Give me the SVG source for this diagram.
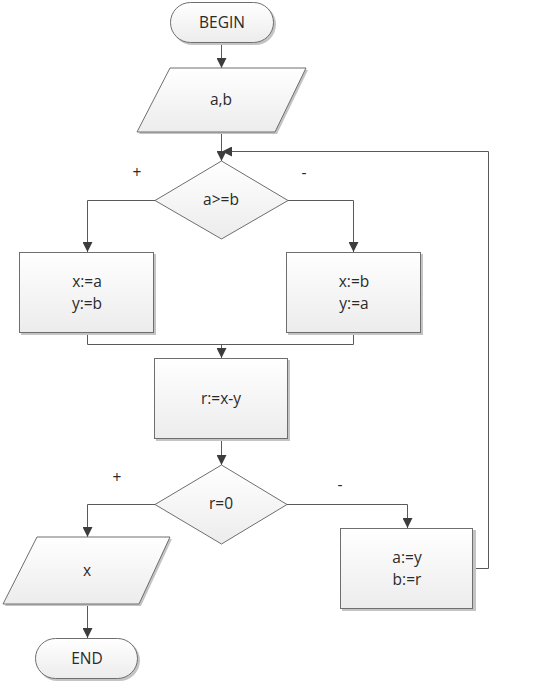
<svg xmlns="http://www.w3.org/2000/svg" width="538" height="684" viewBox="0 0 538 684">
<style>
.shape{fill:url(#g);stroke:#6e6e6e;stroke-width:1}
.shadow{fill:#c4c4c4;stroke:none}
.t{font-family:"Open Sans","Noto Sans",sans-serif;font-size:15.5px;fill:#2a2a2a;text-anchor:middle}
.c{fill:none;stroke:#5a5a5a;stroke-width:1}
</style>
<defs>
<linearGradient id="g" x1="0" y1="0" x2="0" y2="1">
<stop offset="0" stop-color="#ffffff"/>
<stop offset="1" stop-color="#ececec"/>
</linearGradient>
<marker id="a" viewBox="0 0 10 10" refX="10" refY="5" markerWidth="10" markerHeight="10" markerUnits="userSpaceOnUse" orient="auto">
<path d="M0,0 L10,5 L0,10 z" fill="#3c3c3c"/>
</marker>
</defs>
<rect width="538" height="684" fill="#fff"/>
<g id="connectors">
<path class="c" d="M221.5,43 V68" marker-end="url(#a)"/>
<path class="c" d="M221.5,132 V161" marker-end="url(#a)"/>
<path class="c" d="M155,200.5 H87.5 V252" marker-end="url(#a)"/>
<path class="c" d="M288,200.5 H353.5 V252" marker-end="url(#a)"/>
<path class="c" d="M87.5,333 V344.5 H353.5 V333"/>
<path class="c" d="M221.5,344.5 V358" marker-end="url(#a)"/>
<path class="c" d="M221.5,439 V465" marker-end="url(#a)"/>
<path class="c" d="M155,504.5 H87.5 V537" marker-end="url(#a)"/>
<path class="c" d="M287,504.5 H407.5 V528" marker-end="url(#a)"/>
<path class="c" d="M87.5,604 V638" marker-end="url(#a)"/>
<path class="c" d="M473,568.5 H488.5 V151.5 H222" marker-end="url(#a)"/>
<text class="t" x="137" y="178">+</text>
<text class="t" x="304" y="178">-</text>
<text class="t" x="117" y="483">+</text>
<text class="t" x="340" y="490">-</text>
</g>
<g id="begin">
<rect class="shadow" x="172" y="4" width="104" height="41" rx="20.5"/>
<rect class="shape" x="170.5" y="2.5" width="103" height="40" rx="20"/>
<text class="t" x="222" y="28">BEGIN</text>
</g>
<g id="input">
<polygon class="shadow" points="172,70 308,70 277,134 139,134"/>
<polygon class="shape" points="170,68 306,68 275,132 137,132"/>
<text class="t" x="221" y="105">a,b</text>
</g>
<g id="cond1">
<polygon class="shape" points="221.5,161 288,200.5 221.5,239 155,200.5"/>
<text class="t" x="221" y="205">a&gt;=b</text>
</g>
<g id="left">
<rect class="shadow" x="21" y="254" width="135" height="81"/>
<rect class="shape" x="19.5" y="252.5" width="134" height="80"/>
<text class="t" x="87" y="287">x:=a</text>
<text class="t" x="87" y="309">y:=b</text>
</g>
<g id="right">
<rect class="shadow" x="288" y="254" width="135" height="81"/>
<rect class="shape" x="286.5" y="252.5" width="134" height="80"/>
<text class="t" x="354" y="287">x:=b</text>
<text class="t" x="354" y="309">y:=a</text>
</g>
<g id="calc">
<rect class="shadow" x="156" y="360" width="134" height="81"/>
<rect class="shape" x="154.5" y="358.5" width="133" height="80"/>
<text class="t" x="221" y="404">r:=x-y</text>
</g>
<g id="cond2">
<polygon class="shape" points="221.5,465 287,504.5 221.5,544 155,504.5"/>
<text class="t" x="221" y="509">r=0</text>
</g>
<g id="output">
<polygon class="shadow" points="39,539 172,539 141,606 5,606"/>
<polygon class="shape" points="37,537 170,537 139,604 3,604"/>
<text class="t" x="87" y="576">x</text>
</g>
<g id="swap">
<rect class="shadow" x="342" y="530" width="134" height="81"/>
<rect class="shape" x="340.5" y="528.5" width="132" height="80"/>
<text class="t" x="407" y="563">a:=y</text>
<text class="t" x="407" y="585">b:=r</text>
</g>
<g id="end">
<rect class="shadow" x="37" y="640" width="103" height="41" rx="20.5"/>
<rect class="shape" x="35.5" y="638.5" width="102" height="40" rx="20"/>
<text class="t" x="87" y="664">END</text>
</g>
</svg>
